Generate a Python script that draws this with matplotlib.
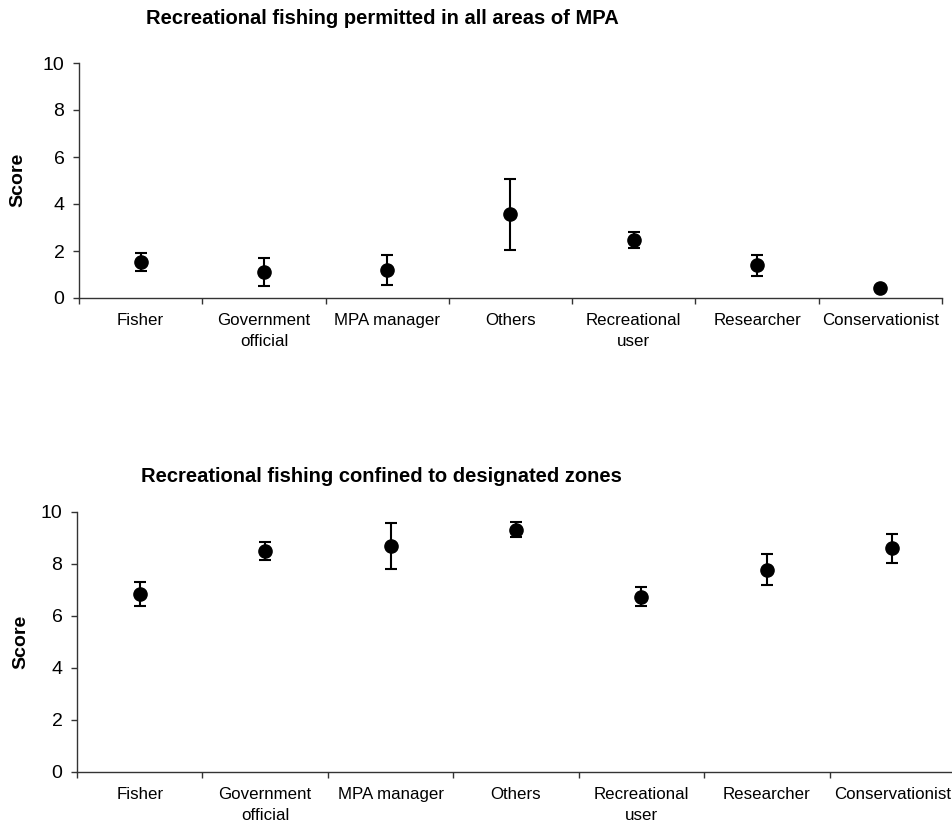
import matplotlib.pyplot as plt
import numpy as np

plt.rcParams['font.family'] = ['Liberation Sans', 'DejaVu Sans']

# Category names
categories = ["Fisher", "Government\nofficial", "MPA manager", "Others",
              "Recreational\nuser", "Researcher", "Conservationist"]

# Scores (mean) and error bars
all_areas_mean = [1.53, 1.09, 1.19, 3.56, 2.47, 1.40, 0.43]
all_areas_err = [0.37, 0.60, 0.65, 1.50, 0.33, 0.45, 0.10]

zones_mean = [6.85, 8.50, 8.69, 9.32, 6.75, 7.78, 8.60]
zones_err = [0.47, 0.35, 0.88, 0.30, 0.37, 0.60, 0.55]

titles = ["Recreational fishing permitted in all areas of MPA",
          "Recreational fishing confined to designated zones"]

W, H = 953, 827
fig = plt.figure(figsize=(W / 100, H / 100), dpi=100)

# axes boxes in pixels: left, top(y=10), right, bottom(y=0)
boxes = [(79, 63, 942, 298), (77, 512, 955, 772)]
title_pos = [(382, 18), (381, 477)]
ylabel_pos = [(18, 180), (21, 642)]

for i, (means, errs) in enumerate([(all_areas_mean, all_areas_err), (zones_mean, zones_err)]):
    l, t, r, b = boxes[i]
    ax = fig.add_axes([l / W, 1 - b / H, (r - l) / W, (b - t) / H])
    x = np.arange(len(categories))
    ax.errorbar(x, means, yerr=errs, fmt='o', color='black', markersize=9.5,
                elinewidth=1.5, capsize=4.5, capthick=1.5, zorder=3, clip_on=False)
    ax.set_xlim(-0.5, len(categories) - 0.5)
    ax.set_ylim(0, 10)
    ax.set_yticks([0, 2, 4, 6, 8, 10])
    # boundary ticks between categories, labels centred
    ax.set_xticks(np.arange(len(categories) + 1) - 0.5)
    ax.set_xticklabels([])
    ax.set_xticks(x, minor=True)
    ax.set_xticklabels(categories, minor=True, fontsize=12.2, linespacing=1.45)
    ax.tick_params(axis='x', which='minor', length=0, pad=11)
    ax.tick_params(axis='x', which='major', length=4.5, width=1, color='#333333')
    ax.tick_params(axis='y', length=4.5, width=1, color='#333333', labelsize=14, pad=6)
    for s in ['top', 'right']:
        ax.spines[s].set_visible(False)
    for s in ['left', 'bottom']:
        ax.spines[s].set_color('#333333')
        ax.spines[s].set_linewidth(1)
    fig.text(title_pos[i][0] / W, 1 - title_pos[i][1] / H, titles[i],
             ha='center', va='center', fontsize=14.5, fontweight='bold')
    fig.text(ylabel_pos[i][0] / W, 1 - ylabel_pos[i][1] / H, "Score", rotation=90,
             ha='center', va='center', fontsize=14, fontweight='bold')

fig.savefig("out.png", dpi=100)
